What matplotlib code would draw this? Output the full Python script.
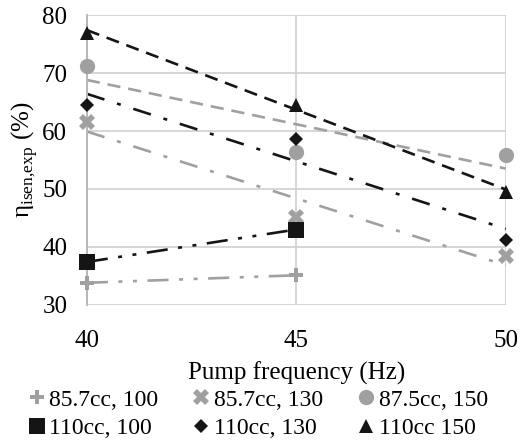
import numpy as np
import matplotlib
matplotlib.use("Agg")
import matplotlib.pyplot as plt

plt.rcParams['font.family'] = ['Liberation Serif', 'DejaVu Serif']
plt.rcParams['mathtext.fontset'] = 'custom'
plt.rcParams['mathtext.rm'] = 'Liberation Serif'

freq = [40, 45, 50]
labels = ["85.7cc, 100", "85.7cc, 130", "87.5cc, 150",
          "110cc, 100", "110cc, 130", "110cc 150"]
eff_857_100 = [33.8, 35.1]
eff_857_130 = [61.5, 45.2, 38.4]
eff_875_150 = [71.2, 56.4, 55.9]
eff_110_100 = [37.4, 43.0]
eff_110_130 = [64.5, 58.6, 41.2]
eff_110_150 = [77.0, 64.5, 49.5]

gray = "#a0a0a0"
black = "#151515"
series = [
    (eff_857_100, gray, "P", 10, (0, (8, 4, 1.5, 4, 1.5, 4))),
    (eff_857_130, gray, "X", 12, (0, (7, 5, 1.5, 5))),
    (eff_875_150, gray, "o", 11, (0, (5, 3))),
    (eff_110_100, black, "s", 11, (0, (8, 4, 1.5, 4, 1.5, 4))),
    (eff_110_130, black, "D", 7.5, (0, (7, 5, 1.5, 5))),
    (eff_110_150, black, "^", 10, (0, (5, 3))),
]

fig = plt.figure(figsize=(5.23, 4.45), dpi=100)
ax = fig.add_axes([0.166, 0.315, 0.801, 0.651])

handles = []
for vals, c, m, ms, ls in series:
    x = freq[:len(vals)]
    k, b = np.polyfit(x, vals, 1)
    xx = np.array([x[0], x[-1]])
    ax.plot(xx, k * xx + b, color=c, lw=1.9, ls=ls, zorder=2)
    h, = ax.plot(x, vals, ls="none", marker=m, ms=ms, color=c,
                 markeredgewidth=0, zorder=3, clip_on=False)
    handles.append(h)

ax.set_xlim(40, 50)
ax.set_ylim(30, 80)
ax.set_xticks(freq)
ax.set_yticks(range(30, 81, 10))
ax.grid(True, color="#d0d0d0", lw=1.2)
ax.set_axisbelow(True)
for s in ["top", "right", "bottom"]:
    ax.spines[s].set_visible(False)
ax.spines["left"].set_color("#b8b8b8")
ax.spines["left"].set_linewidth(1.4)
ax.tick_params(length=0, labelsize=18)
ax.tick_params(axis="y", pad=14)
ax.tick_params(axis="x", pad=18)
ax.set_xlabel("Pump frequency (Hz)", fontsize=18, labelpad=7)
ax.set_ylabel(r"η$_{\rm isen{,}exp}$ (%)", fontsize=18, labelpad=2)

# legend filled row by row like the original
order = [0, 3, 1, 4, 2, 5]
fig.legend([handles[i] for i in order], [labels[i] for i in order],
           loc="lower center", ncol=3, frameon=False,
           fontsize=17, bbox_to_anchor=(0.49, -0.035), handletextpad=0.05,
           columnspacing=1.3, handlelength=1.0, labelspacing=0.3)

fig.savefig("out.png", dpi=100)
